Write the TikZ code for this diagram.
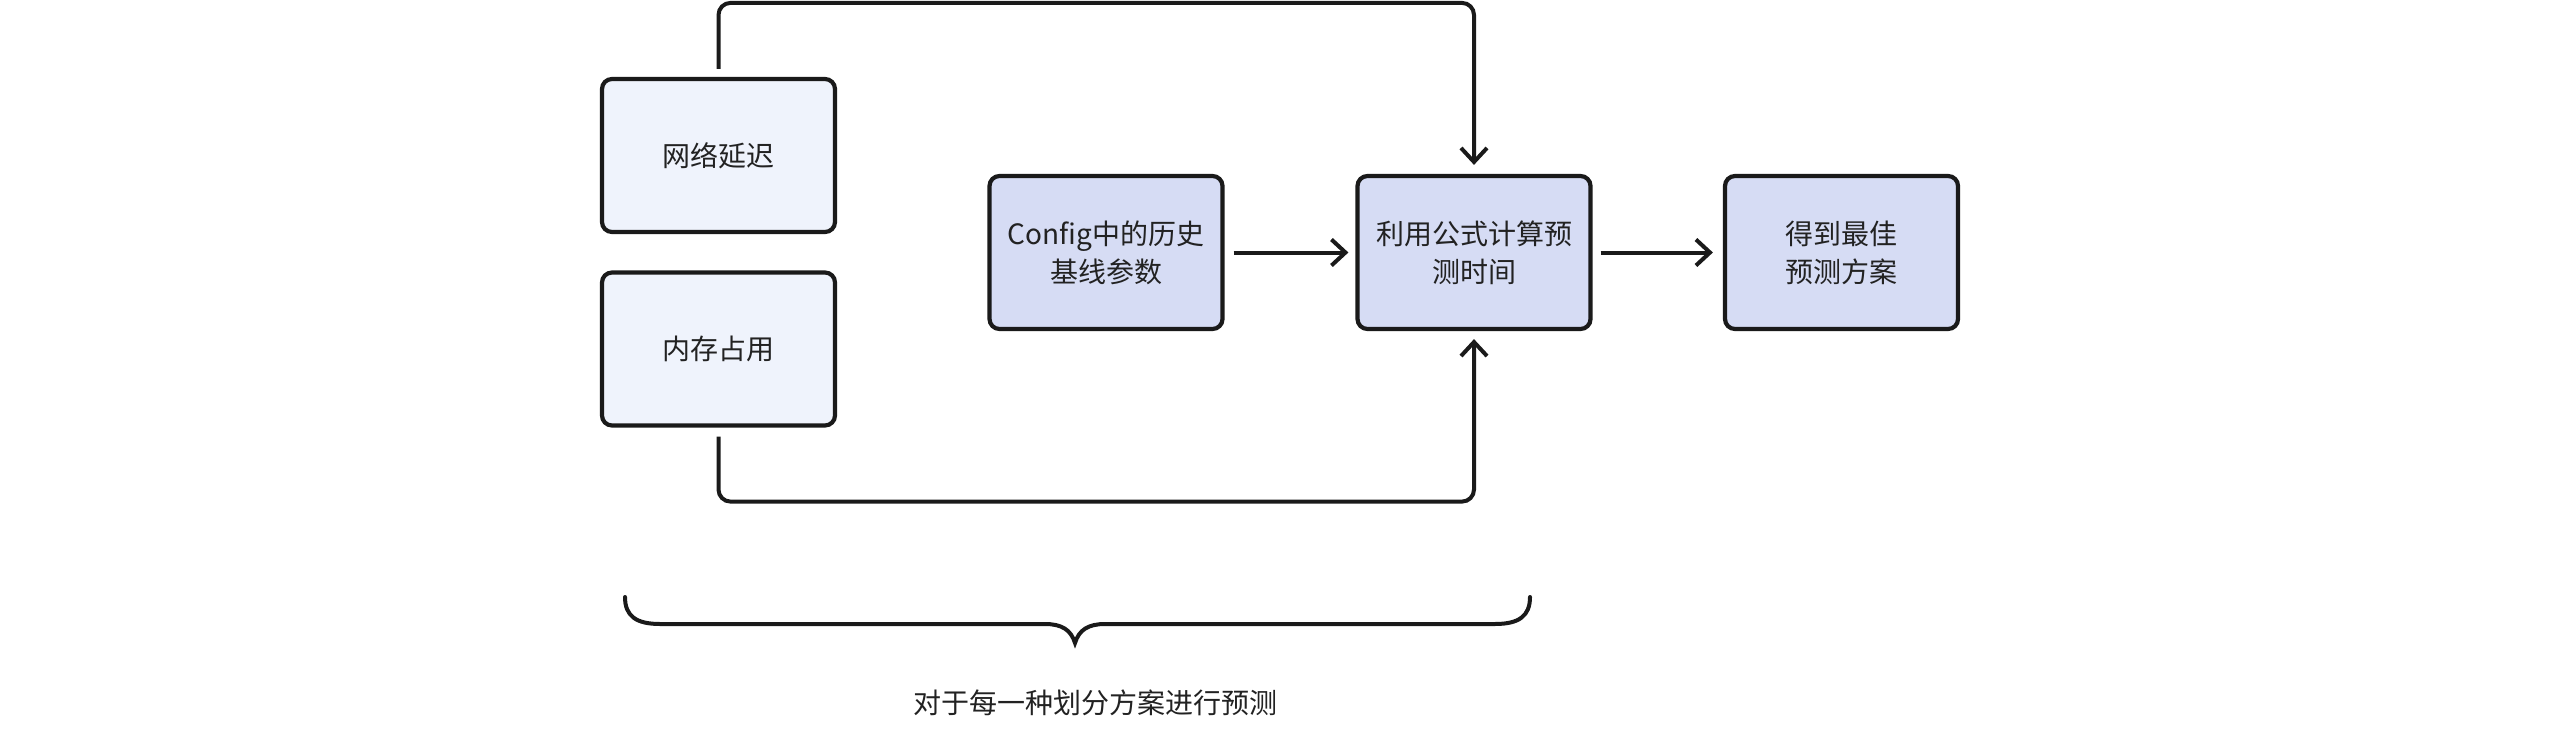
\documentclass[tikz,border=0pt]{standalone}
\usepackage{fontspec}
\setmainfont{Noto Sans CJK SC}
\usetikzlibrary{arrows.meta}
\definecolor{lightfill}{RGB}{239,243,252}
\definecolor{midfill}{RGB}{214,220,244}
\definecolor{strokec}{RGB}{26,26,26}
\definecolor{textc}{RGB}{34,34,34}
\begin{document}
\begin{tikzpicture}[x=0.5pt,y=-0.5pt,
  box/.style={draw=strokec, line width=2.1pt, rounded corners=5pt,
    minimum width=116.5pt, minimum height=76.5pt, inner sep=0pt,
    align=center, text=textc, font=\fontsize{14pt}{19pt}\selectfont},
  inbox/.style={box, fill=lightfill},
  procbox/.style={box, fill=midfill},
  conn/.style={draw=strokec, line width=2pt, rounded corners=6pt,
    -{Straight Barb[length=7pt,width=13pt,line width=2pt]}},
  bracestyle/.style={draw=strokec, line width=2pt, line cap=round},
  caption/.style={text=textc, font=\fontsize{14pt}{19pt}\selectfont, inner sep=0pt}
]
\useasboundingbox (0,0) rectangle (2560,744);
\node[inbox] (net) at (718.5,155.5) {网络延迟};
\node[inbox] (mem) at (718.5,349) {内存占用};
\node[procbox] (cfg) at (1106,252.5) {Config中的历史\\基线参数};
\node[procbox] (calc) at (1474,252.5) {利用公式计算预\\测时间};
\node[procbox] (best) at (1841.5,252.5) {得到最佳\\预测方案};

\draw[conn, shorten <=4pt, shorten >=4.5pt] (net.north) -- ++(0,-74) -| (calc.north);
\draw[conn, shorten <=4.5pt, shorten >=4pt] (mem.south) -- ++(0,74) -| (calc.south);
\draw[conn, shorten <=4.5pt, shorten >=3.5pt] (cfg.east) -- (calc.west);
\draw[conn, shorten <=4pt, shorten >=5pt] (calc.east) -- (best.west);

\draw[bracestyle] (625,597) .. controls (625,616) and (636,624) .. (660,624)
  -- (1045,624) .. controls (1062,624) and (1071,630) .. (1075,643)
  .. controls (1079,630) and (1088,624) .. (1105,624)
  -- (1495,624) .. controls (1519,624) and (1530,616) .. (1530,597);

\node[caption] (cap) at (1095,703) {对于每一种划分方案进行预测};
\end{tikzpicture}
\end{document}
